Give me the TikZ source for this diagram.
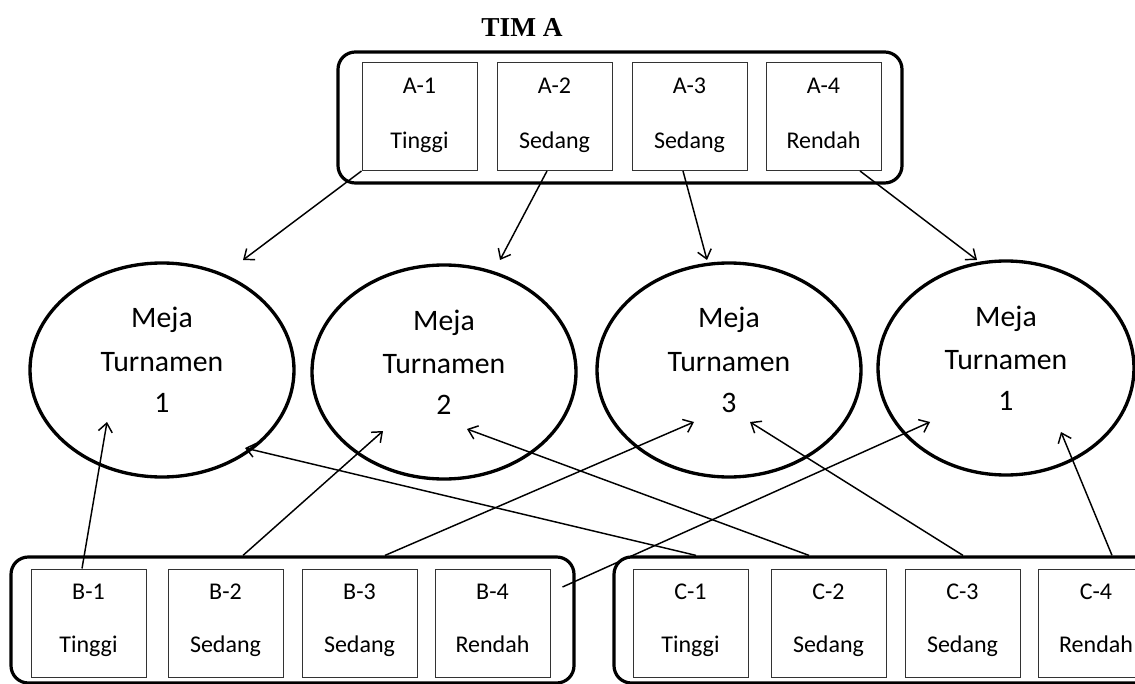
\documentclass[tikz,border=0pt]{standalone}
\usepackage{fontspec}
\setmainfont{Carlito}
\newfontfamily\timesfont{Liberation Serif}
\usetikzlibrary{shapes.geometric,arrows.meta,calc}
\begin{document}
\begin{tikzpicture}[x=0.75pt,y=-0.75pt,
  group/.style={draw,line width=2.4pt,rounded corners=13pt,inner sep=0pt},
  cell/.style={draw=black!80,line width=0.75pt,minimum width=86.25pt,minimum height=81pt,inner sep=0pt},
  celltxt/.style={inner sep=0pt,font=\fontsize{18pt}{21pt}\selectfont},
  table/.style={draw,ellipse,line width=2.5pt,minimum width=198pt,minimum height=160.5pt,inner sep=0pt},
  tabletxt/.style={inner sep=0pt,font=\fontsize{22.3pt}{26pt}\selectfont},
  arr/.style={-{Straight Barb[length=6.5pt,width=10.5pt]},line width=1.1pt}]
\useasboundingbox (0,0) rectangle (1135,684);
\clip (0,0) rectangle (1135,684);

% title
\node[font=\timesfont\bfseries\fontsize{20.5pt}{23pt}\selectfont,inner sep=0pt] (title) at (522,27) {TIM A};

% group boxes
\node[group,minimum width=423pt,minimum height=98.25pt] (ta) at (620,117.5) {};
\node[group,minimum width=422.25pt,minimum height=94.5pt] (bl) at (292.5,620) {};
\node[group,minimum width=423pt,minimum height=94.5pt] (br) at (896,620) {};

% cells
\foreach \n/\x/\lab/\lvl in {1/419.5/A-1/Tinggi,2/554.5/A-2/Sedang,3/689.5/A-3/Sedang,4/823.5/A-4/Rendah}{
  \node[cell] (a\n) at (\x,116.5) {};
  \node[celltxt,anchor=base] (a\n-l) at ($(a\n.north)+(0,32)$) {\lab};
  \node[celltxt,anchor=base] (a\n-v) at ($(a\n.north)+(0,87)$) {\lvl};
}
\foreach \n/\x/\lab/\lvl in {1/88.5/B-1/Tinggi,2/225.5/B-2/Sedang,3/359.5/B-3/Sedang,4/492.5/B-4/Rendah}{
  \node[cell] (b\n) at (\x,623) {};
  \node[celltxt,anchor=base] (b\n-l) at ($(b\n.north)+(0,31)$) {\lab};
  \node[celltxt,anchor=base] (b\n-v) at ($(b\n.north)+(0,84)$) {\lvl};
}
\foreach \n/\x/\lab/\lvl in {1/690.5/C-1/Tinggi,2/828.5/C-2/Sedang,3/962.5/C-3/Sedang,4/1096/C-4/Rendah}{
  \node[cell] (c\n) at (\x,623) {};
  \node[celltxt,anchor=base] (c\n-l) at ($(c\n.north)+(0,31)$) {\lab};
  \node[celltxt,anchor=base] (c\n-v) at ($(c\n.north)+(0,84)$) {\lvl};
}

% tables
\node[table] (e1) at (162,370) {};
\node[table] (e2) at (444,372) {};
\node[table] (e3) at (729,370) {};
\node[table,minimum width=192pt] (e4) at (1006,368) {};
\foreach \n/\num in {1/1,2/2,3/3,4/1}{
  \node[tabletxt,anchor=base] (e\n-a) at ($(e\n.center)+(0,-42)$) {Meja};
  \node[tabletxt,anchor=base] (e\n-b) at ($(e\n.center)+(0,1)$) {Turnamen};
  \node[tabletxt,anchor=base] (e\n-c) at ($(e\n.center)+(0,42)$) {\num};
}

% arrow targets
\coordinate (t-a1) at ($(e1.center)+(81,-110)$);
\coordinate (t-a2) at ($(e2.center)+(56,-112)$);
\coordinate (t-a3) at ($(e3.center)+(-22,-110)$);
\coordinate (t-a4) at ($(e4.center)+(-29,-108)$);
\coordinate (t-b1) at ($(e1.center)+(-55,52)$);
\coordinate (t-b2) at ($(e2.center)+(-61,59)$);
\coordinate (t-b3) at ($(e3.center)+(-35,52)$);
\coordinate (t-b4) at ($(e4.center)+(-76,54)$);
\coordinate (t-c1) at ($(e1.center)+(83,78)$);
\coordinate (t-c2) at ($(e2.center)+(23,57)$);
\coordinate (t-c3) at ($(e3.center)+(21,52)$);
\coordinate (t-c4) at ($(e4.center)+(55,64)$);

% arrows from team A
\draw[arr] (a1.south west) -- (t-a1);
\draw[arr] ($(a2.south)+(-7.5,0)$) -- (t-a2);
\draw[arr] ($(a3.south)+(-6.5,0)$) -- (t-a3);
\draw[arr] ($(a4.south)+(36.5,0)$) -- (t-a4);
% arrows from team B
\draw[arr] ($(b1.north)+(-6.5,0)$) -- (t-b1);
\draw[arr] ($(bl.north)+(-49.5,0)$) -- (t-b2);
\draw[arr] ($(bl.north)+(92.5,0)$) -- (t-b3);
\draw[arr] ($(b4.east)+(12,-36)$) -- (t-b4);
% arrows from team C
\draw[arr] ($(br.north)+(-200,0)$) -- (t-c1);
\draw[arr] ($(br.north)+(-87,0)$) -- (t-c2);
\draw[arr] ($(br.north)+(67,0)$) -- (t-c3);
\draw[arr] ($(br.north)+(216,0)$) -- (t-c4);
\end{tikzpicture}
\end{document}
